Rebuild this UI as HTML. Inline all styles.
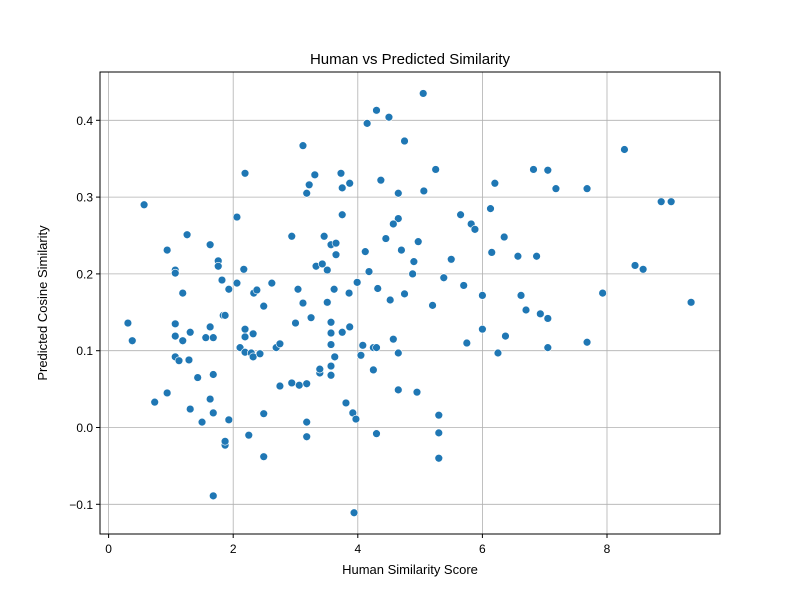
<!DOCTYPE html>
<html><head><meta charset="utf-8">
<style>
html,body{margin:0;padding:0;background:#fff;}
svg{display:block;font-family:"Liberation Sans","DejaVu Sans",sans-serif;}
</style></head>
<body>
<svg id="chart" width="800" height="600" viewBox="0 0 800 600" xmlns="http://www.w3.org/2000/svg">
<rect x="0" y="0" width="800" height="600" fill="#fff"/>
<g id="grid"></g>
<g id="points"></g>
<rect x="100" y="72" width="620" height="462" fill="none" stroke="#000" stroke-width="1"/>
<g id="ticks"></g>
<text x="410" y="64" text-anchor="middle" font-size="15">Human vs Predicted Similarity</text>
<text x="410" y="574" text-anchor="middle" font-size="13">Human Similarity Score</text>
<text transform="translate(47,303) rotate(-90)" text-anchor="middle" font-size="13">Predicted Cosine Similarity</text>
</svg>
<script>
const xTicks = [0, 2, 4, 6, 8];
const yTicks = [-0.1, 0.0, 0.1, 0.2, 0.3, 0.4];
const yTickLabels = ["−0.1", "0.0", "0.1", "0.2", "0.3", "0.4"];
const humanScores = [0.31,0.38,0.57,0.74,0.94,0.94,1.07,1.07,1.07,1.07,1.07,1.13,1.19,1.19,1.26,1.31,1.31,1.29,1.43,1.50,1.56,1.63,1.63,1.63,1.68,1.68,1.68,1.68,1.76,1.76,1.82,1.84,1.87,1.87,1.87,1.93,1.93,2.06,2.06,2.11,2.19,2.17,2.19,2.19,2.19,2.25,2.29,2.32,2.33,2.38,2.32,2.43,2.49,2.49,2.49,2.62,2.69,2.75,2.75,2.94,2.94,3.0,3.04,3.06,3.12,3.12,3.18,3.18,3.18,3.18,3.22,3.25,3.31,3.33,3.39,3.39,3.43,3.46,3.51,3.51,3.57,3.57,3.57,3.57,3.57,3.57,3.62,3.63,3.65,3.65,3.73,3.75,3.75,3.75,3.81,3.87,3.87,3.86,3.92,3.94,3.97,3.99,
4.15,4.3,4.5,4.75,4.37,4.65,4.65,4.57,4.45,4.7,4.12,4.97,4.9,4.18,4.88,4.32,4.75,4.52,4.57,4.25,4.3,4.08,4.05,4.65,4.25,4.65,4.95,4.3,5.3,5.3,5.3,
5.05,5.06,5.25,5.2,5.38,5.5,5.65,5.7,5.75,5.82,5.88,6.0,6.0,6.13,6.15,6.2,6.25,6.35,6.37,6.57,6.62,6.7,6.82,6.87,6.93,7.05,7.05,7.05,7.18,7.68,7.68,7.93,8.28,8.45,8.58,8.87,9.03,9.35];
const predicted = [0.136,0.113,0.290,0.033,0.231,0.045,0.205,0.201,0.135,0.119,0.092,0.087,0.175,0.113,0.251,0.124,0.024,0.088,0.065,0.007,0.117,0.037,0.238,0.131,0.019,0.117,0.069,-0.089,0.217,0.210,0.192,0.146,0.146,-0.023,-0.018,0.180,0.010,0.274,0.188,0.104,0.331,0.206,0.118,0.128,0.098,-0.010,0.097,0.122,0.175,0.179,0.092,0.096,0.158,0.018,-0.038,0.188,0.104,0.054,0.109,0.249,0.058,0.136,0.180,0.055,0.367,0.162,0.305,0.057,0.007,-0.012,0.316,0.143,0.329,0.210,0.071,0.076,0.213,0.249,0.163,0.205,0.238,0.137,0.123,0.108,0.080,0.068,0.180,0.092,0.240,0.225,0.331,0.312,0.277,0.124,0.032,0.318,0.131,0.175,0.019,-0.111,0.011,0.189,
0.396,0.413,0.404,0.373,0.322,0.305,0.272,0.265,0.246,0.231,0.229,0.242,0.216,0.203,0.200,0.181,0.174,0.166,0.115,0.104,0.104,0.107,0.094,0.097,0.075,0.049,0.046,-0.008,0.016,-0.007,-0.040,
0.435,0.308,0.336,0.159,0.195,0.219,0.277,0.185,0.110,0.265,0.258,0.172,0.128,0.285,0.228,0.318,0.097,0.248,0.119,0.223,0.172,0.153,0.336,0.223,0.148,0.335,0.142,0.104,0.311,0.311,0.111,0.175,0.362,0.211,0.206,0.294,0.294,0.163];

const NS = "http://www.w3.org/2000/svg";
function xs(v){ return 108.6 + 62.3 * v; }
function ys(v){ return 427.5 - 768 * v; }
const grid = document.getElementById('grid');
const ticks = document.getElementById('ticks');
const pts = document.getElementById('points');
function mk(tag, attrs, parent){
  const e = document.createElementNS(NS, tag);
  for (const k in attrs) e.setAttribute(k, attrs[k]);
  parent.appendChild(e);
  return e;
}
xTicks.forEach(function(t){
  const x = xs(t);
  const g = mk('line', {x1:x, x2:x, y1:72, y2:534, stroke:'#b0b0b0', 'stroke-width':0.8}, grid);
  
  
  mk('line', {x1:x, x2:x, y1:534, y2:538, stroke:'#000'}, ticks);
  const l = mk('text', {x:x, y:553, 'text-anchor':'middle', 'font-size':12}, ticks);
  l.textContent = String(t);
  
  
});
yTicks.forEach(function(t, i){
  const y = ys(t);
  const g = mk('line', {x1:100, x2:720, y1:y, y2:y, stroke:'#b0b0b0', 'stroke-width':0.8}, grid);
  
  
  mk('line', {x1:96, x2:100, y1:y, y2:y, stroke:'#000'}, ticks);
  const l = mk('text', {x:93, y:y+4.5, 'text-anchor':'end', 'font-size':12}, ticks);
  l.textContent = yTickLabels[i];
  
  
});
humanScores.forEach(function(h, i){
  const c = mk('circle', {cx:xs(h), cy:ys(predicted[i]), r:3.9, fill:'#1f77b4', stroke:'#fff', 'stroke-width':0.6}, pts);
  
  
});
</script>
</body></html>
